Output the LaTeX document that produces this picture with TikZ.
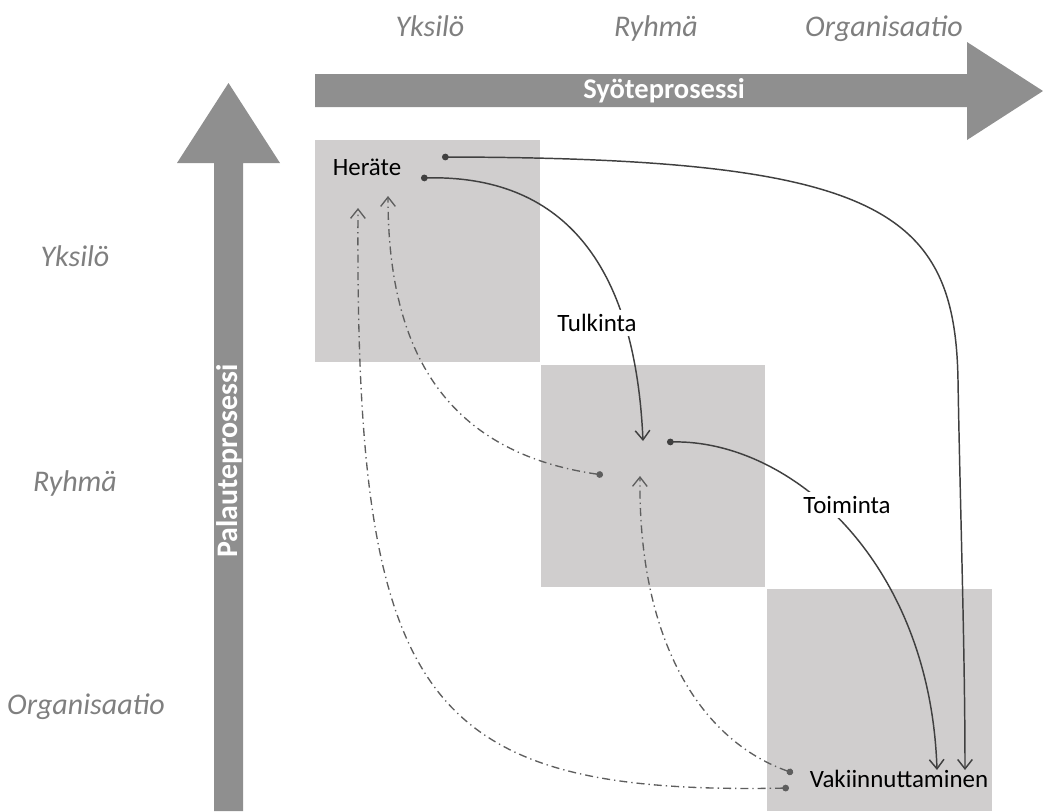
\documentclass[tikz,border=0pt]{standalone}
\usepackage{fontspec}
\setmainfont{Carlito}
\usetikzlibrary{arrows.meta}
\definecolor{arrowgray}{HTML}{8F8F8F}
\definecolor{boxgray}{HTML}{D0CECE}
\definecolor{labelgray}{HTML}{7F7F7F}
\definecolor{linegray}{HTML}{404040}
\definecolor{dashgray}{HTML}{5E5E5E}
\begin{document}
\begin{tikzpicture}[x=0.75pt,y=-0.75pt,
  cell/.style={fill=boxgray,draw=none},
  bigarrow/.style={fill=arrowgray,draw=none},
  axislabel/.style={font=\fontsize{22.5}{26}\selectfont\itshape,text=labelgray,inner sep=0pt,anchor=base},
  arrowtext/.style={font=\fontsize{21.4}{24}\selectfont\bfseries,text=white,inner sep=0pt},
  stagetext/.style={font=\fontsize{18.7}{22}\selectfont,text=black,inner sep=1pt},
  midlabel/.style={stagetext,fill=white,inner sep=3pt},
  flowline/.style={draw=linegray,line width=1.1pt,
    arrows={Circle[length=5pt,fill=linegray]-Straight Barb[length=7pt,width=11pt,line width=1.1pt]}},
  backline/.style={draw=dashgray,line width=1pt,dash pattern=on 6pt off 3pt on 1pt off 3pt,
    arrows={Circle[length=5pt,fill=dashgray]-Straight Barb[length=7pt,width=11pt,line width=1pt]}}
]
\useasboundingbox (0,0) rectangle (1043,811);

% cells
\fill[cell] (315,140) rectangle (540,362);
\fill[cell] (541,365) rectangle (765,587);
\fill[cell] (767,589) rectangle (992,811);

% big arrows
\fill[bigarrow] (315,74) -- (967,74) -- (967,42) -- (1043,91) -- (967,140) -- (967,107) -- (315,107) -- cycle;
\fill[bigarrow] (214,811) -- (214,163) -- (177,163) -- (228.5,83) -- (280,163) -- (243,163) -- (243,811) -- cycle;
\node[arrowtext] (syote) at (664,91) {Syöteprosessi};
\node[arrowtext,font=\fontsize{22.4}{26}\selectfont\bfseries,rotate=90] (palaute) at (229,461) {Palauteprosessi};

% axis labels
\node[axislabel] (tY) at (430,36) {Yksilö};
\node[axislabel] (tR) at (656,36) {Ryhmä};
\node[axislabel] (tO) at (884,36) {Organisaatio};
\node[axislabel] (lY) at (75,266) {Yksilö};
\node[axislabel] (lR) at (75,491) {Ryhmä};
\node[axislabel] (lO) at (86,714) {Organisaatio};

% stage texts
\node[stagetext] (herate) at (367,167) {Heräte};
\node[stagetext] (vakiin) at (899,779) {Vakiinnuttaminen};

% anchor coordinates
\coordinate (h1) at (442,157);
\coordinate (h2) at (421,178);
\coordinate (hin1) at (388,196);
\coordinate (hin2) at (358,208);
\coordinate (rin) at (643,441);
\coordinate (rout) at (667,442);
\coordinate (rback) at (603,475);
\coordinate (rup) at (640,476);
\coordinate (vin1) at (937,770);
\coordinate (vin2) at (965,770);
\coordinate (vb1) at (793,773);
\coordinate (vb2) at (789,788);
\coordinate (bend) at (958,380);

% forward flows
\draw[flowline] (h1) .. controls (880,158) and (955,210) .. (bend) .. controls (960,500) and (965,650) .. (vin2);
\draw[flowline] (h2) .. controls (560,175) and (635,260) .. (rin);
\draw[flowline] (rout) .. controls (790,440) and (930,560) .. (vin1);

% feedback flows
\draw[backline] (rback) .. controls (430,450) and (388,330) .. (hin1);
\draw[backline] (vb1) .. controls (700,740) and (638,640) .. (rup);
\draw[backline] (vb2) .. controls (420,795) and (355,700) .. (hin2);

% labels on connectors
\node[midlabel] (tulk) at (597,323) {Tulkinta};
\node[midlabel] (toim) at (847,505) {Toiminta};
\end{tikzpicture}
\end{document}
